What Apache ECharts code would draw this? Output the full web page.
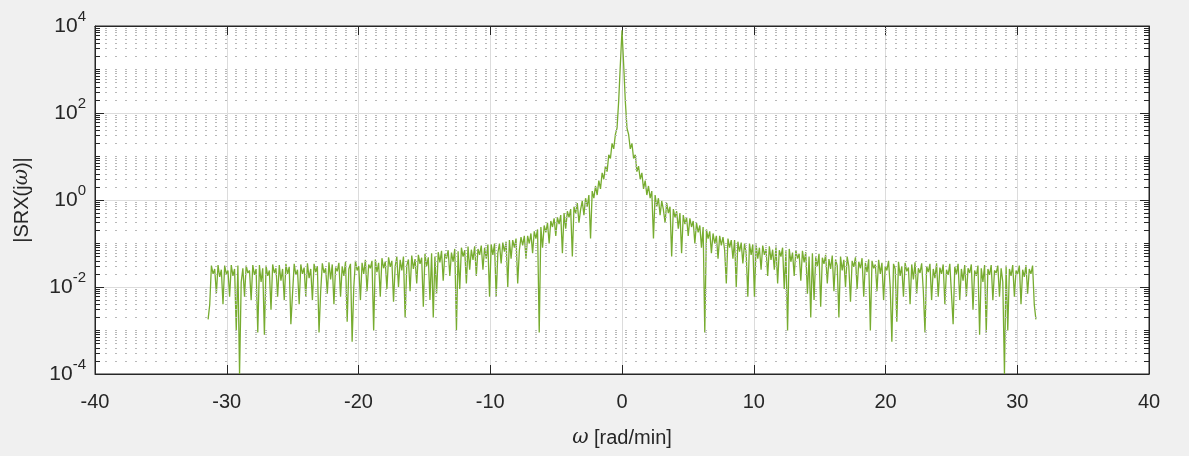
<!DOCTYPE html>
<html>
<head>
<meta charset="utf-8">
<script src="https://cdn.jsdelivr.net/npm/echarts@6/dist/echarts.min.js"></script>
<style>
  html, body { margin: 0; padding: 0; background: #f0f0f0; }
  #chart { width: 1189px; height: 456px; }
</style>
</head>
<body>
<div id="chart"></div>
<script>
// bin spacing of the spectrum [rad/min]
const omegaStep = Math.PI / 25;

// |SRX(jw)| for w < 0, from -31.4 up to -0.126
const magNeg = [
  0.0018,
  0.004, 0.031, 0.02, 0.026, 0.007, 0.032, 0.017, 0.025, 0.004, 0.031,
  0.02, 0.024, 0.006, 0.032, 0.018, 0.026, 0.001, 0.031, 0.0001, 0.013,
  0.027, 0.006, 0.031, 0.021, 0.024, 0.005, 0.032, 0.019, 0.026, 0.0009,
  0.032, 0.013, 0.027, 0.0008, 0.031, 0.018, 0.024, 0.003, 0.033, 0.021,
  0.027, 0.006, 0.032, 0.014, 0.026, 0.005, 0.034, 0.02, 0.029, 0.0014,
  0.007, 0.034, 0.019, 0.025, 0.004, 0.033, 0.02, 0.028, 0.006, 0.035,
  0.016, 0.026, 0.005, 0.034, 0.022, 0.03, 0.0009, 0.008, 0.035, 0.021,
  0.027, 0.007, 0.037, 0.015, 0.033, 0.004, 0.028, 0.023, 0.036, 0.006,
  0.03, 0.018, 0.038, 0.0016, 0.026, 0.034, 0.00055, 0.01, 0.04, 0.024,
  0.03, 0.005, 0.036, 0.02, 0.042, 0.008, 0.033, 0.027, 0.04, 0.001,
  0.043, 0.022, 0.036, 0.006, 0.046, 0.027, 0.038, 0.009, 0.048, 0.029,
  0.04, 0.0046, 0.03, 0.05, 0.01, 0.042, 0.024, 0.05, 0.002, 0.031,
  0.043, 0.008, 0.053, 0.026, 0.044, 0.012, 0.055, 0.034, 0.047, 0.0035,
  0.058, 0.03, 0.048, 0.005, 0.06, 0.002, 0.05, 0.007, 0.063, 0.037,
  0.068, 0.014, 0.058, 0.045, 0.07, 0.018, 0.062, 0.038, 0.075, 0.001,
  0.066, 0.009, 0.08, 0.05, 0.07, 0.012, 0.085, 0.025, 0.072, 0.042,
  0.086, 0.018, 0.075, 0.055, 0.09, 0.025, 0.08, 0.045, 0.095, 0.006,
  0.095, 0.055, 0.1, 0.006, 0.06, 0.1, 0.035, 0.105, 0.065, 0.11,
  0.01, 0.12, 0.045, 0.12, 0.08, 0.13, 0.012, 0.07, 0.14, 0.09,
  0.15, 0.045, 0.15, 0.1, 0.17, 0.06, 0.19, 0.13, 0.21, 0.0009,
  0.24, 0.08, 0.26, 0.18, 0.3, 0.1, 0.33, 0.24, 0.38, 0.15,
  0.4, 0.28, 0.45, 0.06, 0.5, 0.22, 0.55, 0.4, 0.62, 0.05,
  0.7, 0.5, 0.85, 0.3, 0.6, 0.95, 0.45, 1.1, 0.7, 1.3,
  0.13, 1.6, 1.1, 2.1, 1.3, 2.8, 1.8, 4.2, 3, 6,
  4.5, 11, 9, 20, 15, 32, 45, 190, 1300
];

// |SRX(jw)| for w >= 0, from 0 up to 31.4
const magPos = [
  8000, 1300, 190, 45, 32, 15, 20, 9, 11, 4.5,
  6, 3, 4.2, 1.8, 2.8, 1.3, 2.1, 1.1, 1.6, 0.13,
  1.3, 0.7, 1.1, 0.45, 0.95, 0.6, 0.3, 0.85, 0.5, 0.7,
  0.05, 0.62, 0.4, 0.55, 0.22, 0.5, 0.06, 0.45, 0.28, 0.4,
  0.15, 0.38, 0.24, 0.33, 0.1, 0.3, 0.18, 0.26, 0.08, 0.24,
  0.0009, 0.21, 0.13, 0.19, 0.06, 0.17, 0.1, 0.15, 0.045, 0.15,
  0.09, 0.14, 0.07, 0.012, 0.13, 0.08, 0.12, 0.045, 0.12, 0.01,
  0.11, 0.065, 0.105, 0.035, 0.1, 0.06, 0.006, 0.1, 0.055, 0.095,
  0.006, 0.095, 0.045, 0.08, 0.025, 0.09, 0.055, 0.075, 0.018, 0.086,
  0.042, 0.072, 0.025, 0.085, 0.012, 0.07, 0.05, 0.08, 0.009, 0.066,
  0.001, 0.075, 0.038, 0.062, 0.018, 0.07, 0.045, 0.058, 0.014, 0.068,
  0.037, 0.063, 0.007, 0.05, 0.002, 0.06, 0.005, 0.048, 0.03, 0.058,
  0.0035, 0.047, 0.034, 0.055, 0.012, 0.044, 0.026, 0.053, 0.008, 0.043,
  0.031, 0.002, 0.05, 0.024, 0.042, 0.01, 0.05, 0.03, 0.0046, 0.04,
  0.029, 0.048, 0.009, 0.038, 0.027, 0.046, 0.006, 0.036, 0.022, 0.043,
  0.001, 0.04, 0.027, 0.033, 0.008, 0.042, 0.02, 0.036, 0.005, 0.03,
  0.024, 0.04, 0.01, 0.00055, 0.034, 0.026, 0.0016, 0.038, 0.018, 0.03,
  0.006, 0.036, 0.023, 0.028, 0.004, 0.033, 0.015, 0.037, 0.007, 0.027,
  0.021, 0.035, 0.008, 0.0009, 0.03, 0.022, 0.034, 0.005, 0.026, 0.016,
  0.035, 0.006, 0.028, 0.02, 0.033, 0.004, 0.025, 0.019, 0.034, 0.007,
  0.0014, 0.029, 0.02, 0.034, 0.005, 0.026, 0.014, 0.032, 0.006, 0.027,
  0.021, 0.033, 0.003, 0.024, 0.018, 0.031, 0.0008, 0.027, 0.013, 0.032,
  0.0009, 0.026, 0.019, 0.032, 0.005, 0.024, 0.021, 0.031, 0.006, 0.027,
  0.013, 0.0001, 0.031, 0.001, 0.026, 0.018, 0.032, 0.006, 0.024, 0.02,
  0.031, 0.004, 0.025, 0.017, 0.032, 0.007, 0.026, 0.02, 0.031, 0.004,
  0.0018
];

// axis ranges
const xMin = -40, xMax = 40, xStep = 10;
const yMin = 1e-4, yMax = 1e4;
const yMinorFactors = [2, 3, 4, 5, 6, 7, 8, 9];

const textColor = '#262626';
const fontFamily = '"Liberation Sans", Helvetica, Arial, sans-serif';

const points = [];
magNeg.forEach((v, i) => points.push([-(magNeg.length - i) * omegaStep, v]));
magPos.forEach((v, k) => points.push([k * omegaStep, v]));

// minor log grid: 2..9 x 10^e, plus the odd decades
const minorValues = [];
for (let e = -4; e < 4; e++) {
  const base = Math.pow(10, e);
  if (e % 2 !== 0) minorValues.push(base);
  yMinorFactors.forEach(f => minorValues.push(f * base));
}
const tickLen = 0.38; // in x units, about 5px
const minorGrid = minorValues.map(v => ({ yAxis: v }));
const minorTicks = [];
minorValues.forEach(v => {
  minorTicks.push([{ coord: [xMin, v] }, { coord: [xMin + tickLen, v] }]);
  minorTicks.push([{ coord: [xMax, v] }, { coord: [xMax - tickLen, v] }]);
});

const supLabel = value => {
  const e = Math.round(Math.log10(value));
  return '{b|10}{s|' + e + '}';
};
const supRich = {
  b: { fontSize: 21, lineHeight: 21, verticalAlign: 'bottom', color: textColor, fontFamily },
  s: { fontSize: 15, lineHeight: 15, padding: [0, 0, 12, 0], verticalAlign: 'bottom', color: textColor, fontFamily }
};

const axisLineStyle = { show: true, onZero: false, lineStyle: { color: textColor, width: 1 } };
const axisTickStyle = { show: true, inside: true, length: 9, lineStyle: { color: textColor } };

const chart = echarts.init(document.getElementById('chart'));
const option = {
  backgroundColor: '#f0f0f0',
  animation: false,
  textStyle: { fontFamily },
  grid: {
    left: 95, right: 40, top: 26, bottom: 82,
    show: true, backgroundColor: '#ffffff', borderColor: textColor, borderWidth: 1
  },
  xAxis: [
    {
      type: 'value', min: xMin, max: xMax, interval: xStep, position: 'bottom',
      name: '{i|ω} [rad/min]', nameLocation: 'middle', nameGap: 54,
      nameTextStyle: {
        fontSize: 20, color: textColor, fontFamily,
        rich: { i: { fontSize: 20, fontStyle: 'italic', color: textColor, fontFamily: '"DejaVu Serif", serif' } }
      },
      axisLine: axisLineStyle,
      axisTick: axisTickStyle,
      axisLabel: { fontSize: 20, color: textColor, margin: 18, fontFamily },
      splitLine: { show: true, lineStyle: { color: '#dcdcdc', width: 1 } }
    },
    {
      type: 'value', min: xMin, max: xMax, interval: xStep, position: 'top',
      axisLine: axisLineStyle,
      axisTick: axisTickStyle,
      axisLabel: { show: false },
      splitLine: { show: false }
    }
  ],
  yAxis: [
    {
      type: 'log', logBase: 10, min: yMin, max: yMax, interval: 2, position: 'left',
      name: '|SRX(j{i|ω})|', nameLocation: 'middle', nameGap: 63,
      nameTextStyle: {
        fontSize: 20, color: textColor, fontFamily,
        rich: { i: { fontSize: 20, fontStyle: 'italic', color: textColor, fontFamily: '"DejaVu Serif", serif' } }
      },
      axisLine: axisLineStyle,
      axisTick: axisTickStyle,
      axisLabel: { formatter: supLabel, rich: supRich, margin: 9 },
      splitLine: { show: true, lineStyle: { color: '#dcdcdc', width: 1 } }
    },
    {
      type: 'log', logBase: 10, min: yMin, max: yMax, interval: 2, position: 'right',
      axisLine: axisLineStyle,
      axisTick: axisTickStyle,
      axisLabel: { show: false },
      splitLine: { show: false }
    }
  ],
  series: [
    {
      // minor log grid
      type: 'line', data: [], z: 1, silent: true,
      markLine: {
        silent: true, symbol: 'none', animation: false, precision: 8, label: { show: false },
        lineStyle: { type: [2, 8], color: '#b8b8b8', width: 1 },
        data: minorGrid
      }
    },
    {
      // minor ticks on both sides of the box
      type: 'line', data: [], z: 4, silent: true,
      markLine: {
        silent: true, symbol: 'none', animation: false, precision: 8, label: { show: false },
        lineStyle: { type: 'solid', color: textColor, width: 1 },
        data: minorTicks
      }
    },
    {
      name: '|SRX(jω)|', type: 'line', data: points, z: 3,
      showSymbol: false, symbol: 'none', sampling: null,
      lineStyle: { color: '#77AC30', width: 1.3 },
      itemStyle: { color: '#77AC30' }
    }
  ]
};
chart.setOption(option);
</script>
</body>
</html>
